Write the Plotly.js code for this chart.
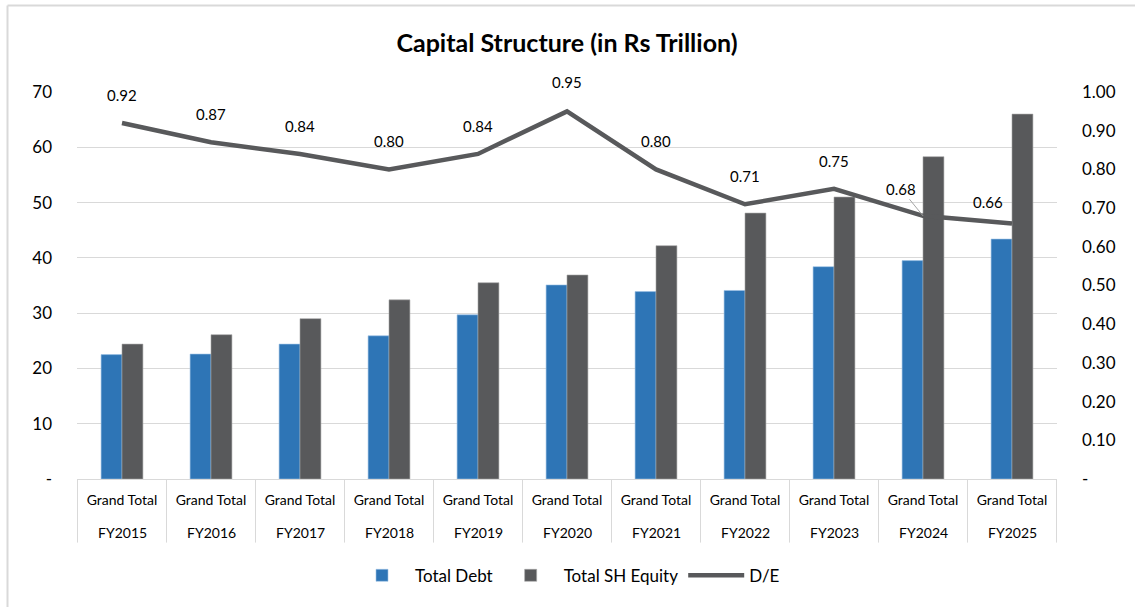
<!DOCTYPE html>
<html>
<head>
<meta charset="utf-8">
<script src="https://cdn.plot.ly/plotly-3.0.1.min.js"></script>
<style>
  html, body { margin: 0; padding: 0; background: #ffffff; }
  #chart { width: 1135px; height: 607px; }
</style>
</head>
<body>
<div id="chart"></div>
<script>
// ---- data ----
const years = ["FY2015","FY2016","FY2017","FY2018","FY2019","FY2020","FY2021","FY2022","FY2023","FY2024","FY2025"];
const innerLabels = ["Grand Total","Grand Total","Grand Total","Grand Total","Grand Total","Grand Total","Grand Total","Grand Total","Grand Total","Grand Total","Grand Total"];
const totalDebt = [22.5, 22.6, 24.4, 25.9, 29.7, 35.1, 33.9, 34.1, 38.4, 39.5, 43.4];
const totalEquity = [24.4, 26.1, 29.0, 32.4, 35.5, 36.9, 42.2, 48.1, 51.0, 58.3, 66.0];
const debtEquity = [0.92, 0.87, 0.84, 0.80, 0.84, 0.95, 0.80, 0.71, 0.75, 0.68, 0.66];
const leftTickVals = [0, 10, 20, 30, 40, 50, 60, 70];
const leftTickText = ["-", "10", "20", "30", "40", "50", "60", "70"];
const rightTickVals = [0, 0.1, 0.2, 0.3, 0.4, 0.5, 0.6, 0.7, 0.8, 0.9, 1.0];
const rightTickText = ["-", "0.10", "0.20", "0.30", "0.40", "0.50", "0.60", "0.70", "0.80", "0.90", "1.00"];

const FONT = "Lato, 'Open Sans', sans-serif";
const TXT = "#000000";
const GRID = "#d9d9d9";

const traces = [
  {
    type: "bar", name: "Total Debt", x: years, y: totalDebt,
    marker: { color: "#2E75B6", line: { color: "#9dc3e6", width: 0.6 } },
    hoverinfo: "y"
  },
  {
    type: "bar", name: "Total SH Equity", x: years, y: totalEquity,
    marker: { color: "#58595b", line: { color: "#a6a6a6", width: 0.6 } },
    hoverinfo: "y"
  },
  {
    type: "scatter", mode: "lines", name: "D/E", x: years, y: debtEquity, yaxis: "y2",
    line: { color: "#58595b", width: 4.5 },
    hoverinfo: "y"
  }
];

// data label offsets (style only)
const labelShiftX = [0,0,0,0,0,0,0,0,0,-22,-24];
const labelShiftY = [28,28,28,28,28,29,28,28,28,27,22];

const annotations = debtEquity.map((v, i) => {
  if (i === 9) {
    return {
      xref: "x", yref: "y2", x: years[i], y: v,
      text: v.toFixed(2),
      font: { family: FONT, size: 15, color: TXT },
      showarrow: true, arrowhead: 0, arrowwidth: 1, arrowcolor: "#a6a6a6",
      ax: labelShiftX[i], ay: -labelShiftY[i], standoff: 0, startstandoff: 0
    };
  }
  return {
    xref: "x", yref: "y2", x: years[i], y: v,
    text: v.toFixed(2),
    font: { family: FONT, size: 15, color: TXT },
    showarrow: false,
    xshift: labelShiftX[i], yshift: labelShiftY[i]
  };
});

// outer (year) level of the category table
years.forEach((yr) => {
  annotations.push({
    xref: "x", yref: "paper", x: yr, y: 0, yanchor: "middle",
    yshift: -53.5, showarrow: false, text: yr,
    font: { family: FONT, size: 14, color: TXT }
  });
});

// table dividers at category boundaries
const dividerBottom = -(542 - 478.5) / 386.5;
const shapes = [];
for (let i = 0; i <= years.length; i++) {
  shapes.push({
    type: "line", xref: "x", yref: "paper",
    x0: i - 0.5, x1: i - 0.5, y0: 0, y1: dividerBottom,
    line: { color: GRID, width: 1 }
  });
}
shapes.push(
  { type: "line", xref: "paper", yref: "paper",
    x0: (7.5 - 77) / 980, x1: (1135 - 77) / 980, y0: (478.5 - 5.7) / 386.5, y1: (478.5 - 5.7) / 386.5,
    line: { color: GRID, width: 2 } },
  { type: "line", xref: "paper", yref: "paper",
    x0: (7.5 - 77) / 980, x1: (7.5 - 77) / 980, y0: (478.5 - 5.7) / 386.5, y1: (478.5 - 607) / 386.5,
    line: { color: GRID, width: 2 } }
);

const layout = {
  width: 1135, height: 607,
  margin: { l: 77, r: 78, t: 92, b: 128 },
  paper_bgcolor: "#ffffff", plot_bgcolor: "#ffffff",
  font: { family: FONT, color: TXT },
  title: {
    text: "<b>Capital Structure (in Rs Trillion)</b>",
    font: { family: FONT, size: 25, color: TXT },
    x: 0.5, xref: "paper", xanchor: "center",
    y: 1 - 43 / 607, yref: "container", yanchor: "middle"
  },
  barmode: "group",
  bargap: 0.53, bargroupgap: 0,
  showlegend: true,
  legend: {
    orientation: "h", x: 0.5, xanchor: "center", y: -0.25, yanchor: "middle",
    font: { family: FONT, size: 17, color: TXT },
    traceorder: "normal", itemwidth: 56
  },
  xaxis: {
    type: "category",
    tickvals: years, ticktext: innerLabels,
    showgrid: false, zeroline: false,
    showline: true, linecolor: GRID, linewidth: 1,
    ticks: "", ticklabelstandoff: 8,
    tickfont: { family: FONT, size: 14, color: TXT }
  },
  yaxis: {
    range: [0, 70], tickvals: leftTickVals, ticktext: leftTickText,
    showgrid: true, gridcolor: GRID, gridwidth: 1, zeroline: false,
    showline: false, ticks: "", ticklabelstandoff: 24,
    tickfont: { family: FONT, size: 17, color: TXT }
  },
  yaxis2: {
    range: [0, 1], tickvals: rightTickVals, ticktext: rightTickText,
    overlaying: "y", side: "right",
    showgrid: false, zeroline: false, showline: false, ticks: "", ticklabelstandoff: 24,
    tickfont: { family: FONT, size: 17, color: TXT }
  },
  annotations: annotations,
  shapes: shapes
};

Plotly.newPlot("chart", traces, layout, { displayModeBar: false, staticPlot: true });
</script>
</body>
</html>
